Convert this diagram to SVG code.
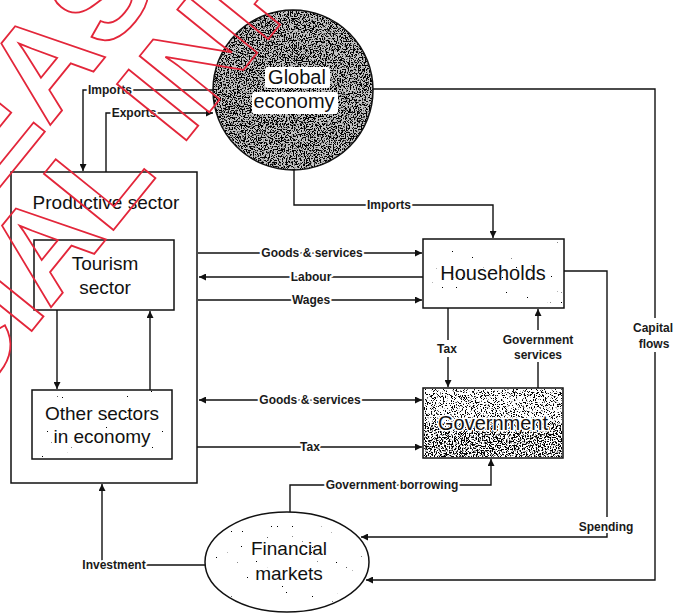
<svg xmlns="http://www.w3.org/2000/svg" width="673" height="613" viewBox="0 0 673 613">
<style>
.box{fill:#fff;stroke:#111;stroke-width:1.5}
.node{font-family:"Liberation Sans",Arial,sans-serif;font-size:19px;fill:#111;text-anchor:middle}
.big{font-size:20px}
.lbl{font-family:"Liberation Sans",Arial,sans-serif;font-size:12px;font-weight:bold;fill:#1a1a1a;stroke:#fff;stroke-width:4;paint-order:stroke;stroke-linejoin:round;text-anchor:middle}
.con{fill:none;stroke:#111;stroke-width:1.4}
.wm{font-family:"Liberation Sans",Arial,sans-serif;font-size:130px;font-weight:bold;fill:none;stroke:#e3263a;stroke-width:1.8}
</style>
<defs>
<marker id="ah" viewBox="0 0 10 10" refX="10" refY="5" markerWidth="9" markerHeight="7" orient="auto-start-reverse" markerUnits="userSpaceOnUse">
<path d="M0,0 L10,5 L0,10 z" fill="#111"/>
</marker>
<filter id="dense" x="0" y="0" width="1" height="1">
<feTurbulence type="fractalNoise" baseFrequency="0.75" numOctaves="2" seed="4" result="n"/>
<feColorMatrix in="n" type="matrix" values="0 0 0 0 0  0 0 0 0 0  0 0 0 0 0  0 0 0 12 -5.8" result="d"/>
<feComposite in="d" in2="SourceGraphic" operator="in"/>
</filter>
<filter id="mid" x="0" y="0" width="1" height="1">
<feTurbulence type="fractalNoise" baseFrequency="0.9" numOctaves="2" seed="9" result="n"/>
<feColorMatrix in="n" type="matrix" values="0 0 0 0 0  0 0 0 0 0  0 0 0 0 0  0 0 0 14 -7.8" result="d"/>
<feComposite in="d" in2="SourceGraphic" operator="in"/>
</filter>
<filter id="sparse" x="0" y="0" width="1" height="1">
<feTurbulence type="fractalNoise" baseFrequency="0.8" numOctaves="1" seed="7" result="n"/>
<feColorMatrix in="n" type="matrix" values="0 0 0 0 0  0 0 0 0 0  0 0 0 0 0  0 0 0 45 -34.3" result="d"/>
<feComposite in="d" in2="SourceGraphic" operator="in"/>
</filter>
</defs>
<rect width="673" height="613" fill="#fff"/>

<g id="connectors">
<path class="con" d="M216,90 H83 V171" marker-end="url(#ah)"/>
<path class="con" d="M106,172 V113 H213" marker-end="url(#ah)"/>
<path class="con" d="M294,170 V205 H493 V238" marker-end="url(#ah)"/>
<path class="con" d="M373,89 H655 V318 M655,352 V580 H366" marker-end="url(#ah)"/>
<path class="con" d="M564,271 H607 V517 M607,533 V537 H361" marker-end="url(#ah)"/>
<path class="con" d="M448,308 V340 M448,357 V387" marker-end="url(#ah)"/>
<path class="con" d="M538,388 V362 M538,330 V309" marker-end="url(#ah)"/>
<path class="con" d="M198,253 H422" marker-end="url(#ah)"/>
<path class="con" d="M423,277 H199" marker-end="url(#ah)"/>
<path class="con" d="M198,300 H422" marker-end="url(#ah)"/>
<path class="con" d="M199,400 H422" marker-start="url(#ah)" marker-end="url(#ah)"/>
<path class="con" d="M197,447 H422" marker-end="url(#ah)"/>
<path class="con" d="M57,310 V389" marker-end="url(#ah)"/>
<path class="con" d="M150,390 V311" marker-end="url(#ah)"/>
<path class="con" d="M290,512 V485 H491 V459" marker-end="url(#ah)"/>
<path class="con" d="M205,565 H102 V484" marker-end="url(#ah)"/>
<text class="lbl" x="110" y="94">Imports</text>
<text class="lbl" x="134" y="117">Exports</text>
<text class="lbl" x="389" y="209">Imports</text>
<text class="lbl" x="653" y="332" style="stroke:none">Capital</text>
<text class="lbl" x="654" y="348" style="stroke:none">flows</text>
<text class="lbl" x="606" y="531">Spending</text>
<text class="lbl" x="447" y="353" style="stroke:none">Tax</text>
<text class="lbl" x="538" y="344" style="stroke:none">Government</text>
<text class="lbl" x="538" y="359" style="stroke:none">services</text>
<text class="lbl" x="312" y="257">Goods &amp; services</text>
<text class="lbl" x="311" y="281">Labour</text>
<text class="lbl" x="311" y="304">Wages</text>
<text class="lbl" x="310" y="404">Goods &amp; services</text>
<text class="lbl" x="310" y="451">Tax</text>
<text class="lbl" x="392" y="489">Government borrowing</text>
<text class="lbl" x="114" y="569">Investment</text>
</g>

<g id="productive-sector">
<rect class="box" x="11" y="172" width="186" height="311" style="fill:none"/>
<text class="node" x="106" y="209">Productive sector</text>
</g>

<g id="tourism-sector">
<rect class="box" x="34" y="240" width="140" height="70"/>
<text class="node" x="105" y="270">Tourism</text>
<text class="node" x="105" y="294">sector</text>
</g>

<g id="other-sectors">
<rect class="box" x="32" y="390" width="140" height="69"/>
<rect x="33" y="391" width="138" height="67" fill="#000" filter="url(#sparse)"/>
<text class="node" x="102" y="420">Other sectors</text>
<text class="node" x="102" y="443">in economy</text>
</g>

<g id="global-economy">
<circle cx="293" cy="90" r="80" fill="#c4c4c4"/>
<circle cx="293" cy="90" r="80" fill="#000" filter="url(#dense)"/>
<circle cx="293" cy="90" r="80" fill="none" stroke="#111" stroke-width="1.5"/>
<rect x="265" y="67" width="65" height="21" rx="3" fill="#fff"/>
<rect x="252" y="92" width="86" height="22" rx="3" fill="#fff"/>
<text class="node big" x="297" y="84">Global</text>
<text class="node big" x="294" y="108">economy</text>
</g>

<g id="households">
<rect class="box" x="423" y="239" width="141" height="69"/>
<rect x="424" y="240" width="139" height="67" fill="#000" filter="url(#sparse)"/>
<text class="node big" x="493" y="280">Households</text>
</g>

<g id="government">
<rect class="box" x="423" y="388" width="140" height="70"/>
<rect x="424" y="389" width="138" height="34" fill="#000" filter="url(#mid)"/>
<rect x="424" y="423" width="138" height="34" fill="#000" filter="url(#dense)"/>
<text class="node big" x="493" y="430" style="stroke:#fff;stroke-width:3;paint-order:stroke">Government</text>
</g>

<g id="financial-markets">
<ellipse cx="287" cy="562" rx="82" ry="50" fill="#fff" stroke="#111" stroke-width="1.5"/>
<ellipse cx="287" cy="562" rx="80" ry="48" fill="#000" filter="url(#sparse)"/>
<text class="node" x="289" y="555">Financial</text>
<text class="node" x="289" y="580">markets</text>
</g>

<g id="watermark">
<text class="wm" transform="translate(-170,397) rotate(-51)">RELEASED UNDER THE</text>
<text class="wm" transform="translate(158,175) rotate(-51)" text-anchor="end">OFFICIAL</text>
<text class="wm" transform="translate(181,147) rotate(-51)">INFORMATION ACT</text>
</g>
</svg>
